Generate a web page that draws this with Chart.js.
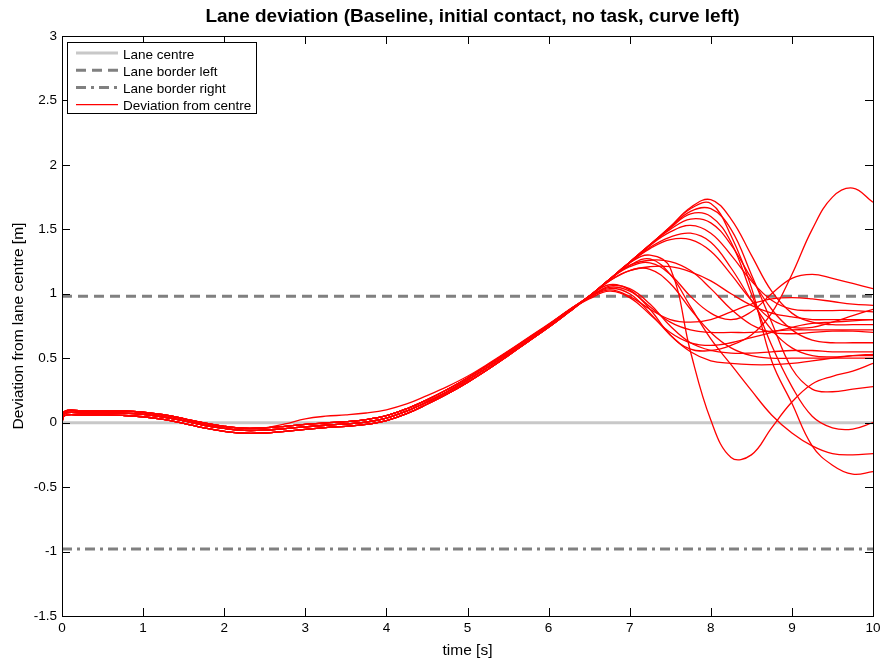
<!DOCTYPE html>
<html>
<head>
<meta charset="utf-8">
<script src="https://cdn.jsdelivr.net/npm/chart.js@4/dist/chart.umd.min.js"></script>
<style>
  html, body { margin: 0; padding: 0; background: #fff; }
  #wrap { width: 880px; height: 662px; }
</style>
</head>
<body>
<div id="wrap"><canvas id="dev" width="880" height="662"></canvas></div>
<script>
// lane geometry [m]
const laneCentre = 0;
const borderLeft = 0.98;
const borderRight = -0.98;

// axis ticks
const xTicks = [0, 1, 2, 3, 4, 5, 6, 7, 8, 9, 10];
const yTicks = [-1.5, -1, -0.5, 0, 0.5, 1, 1.5, 2, 2.5, 3];

// sample times of the runs, split where the runs start to diverge
const leadTimes = [0, 0.03, 0.25, 0.5, 0.75, 1, 1.25, 1.5, 1.75, 2, 2.25, 2.5, 2.75, 3,
  3.25, 3.5, 3.75, 4, 4.25, 4.5, 4.75, 5, 5.25, 5.5, 5.75, 6, 6.25];
const tailTimes = [6.5, 6.75, 7, 7.25, 7.5, 7.75, 8, 8.25, 8.5, 8.75, 9, 9.25, 9.5, 9.75, 10];

// the common approach into the curve (nearly identical for every run)
const leadLow = [0, 0.055, 0.058, 0.06, 0.056, 0.046, 0.026, -0.005, -0.04, -0.067, -0.082, -0.08, -0.067,
  -0.052, -0.038, -0.028, -0.014, 0.016, 0.07, 0.143, 0.223, 0.313, 0.413, 0.52, 0.63, 0.74, 0.858];
const leadMid = [0, 0.07, 0.075, 0.077, 0.074, 0.064, 0.044, 0.014, -0.02, -0.045, -0.06, -0.058, -0.046,
  -0.032, -0.02, -0.01, 0.005, 0.035, 0.09, 0.16, 0.24, 0.33, 0.43, 0.535, 0.64, 0.75, 0.865];
const leadHigh = [0, 0.087, 0.092, 0.094, 0.092, 0.082, 0.062, 0.032, -0.002, -0.028, -0.043, -0.04, -0.028,
  -0.013, -0.002, 0.008, 0.024, 0.054, 0.108, 0.177, 0.257, 0.347, 0.447, 0.55, 0.655, 0.76, 0.872];
const leadUpper = [0, 0.08, 0.085, 0.088, 0.085, 0.075, 0.055, 0.025, -0.01, -0.035, -0.045, -0.04, -0.01,
  0.03, 0.05, 0.06, 0.075, 0.1, 0.145, 0.21, 0.28, 0.36, 0.455, 0.555, 0.66, 0.765, 0.875];

// deviation after 6.5 s, one list per run
const runA1 = [0.98, 1.11, 1.245, 1.38, 1.52, 1.67, 1.73, 1.58, 1.30, 1.02, 0.85, 0.78, 0.76, 0.76, 0.76];
const runA2 = [0.98, 1.11, 1.245, 1.38, 1.52, 1.66, 1.70, 1.45, 1.05, 0.48, 0.15, -0.18, -0.33, -0.40, -0.38];
const runA3 = [0.98, 1.11, 1.245, 1.38, 1.515, 1.64, 1.66, 1.50, 1.15, 0.78, 0.42, 0.26, 0.24, 0.26, 0.28];
const runA4 = [0.98, 1.11, 1.245, 1.38, 1.51, 1.62, 1.60, 1.40, 1.00, 0.60, 0.28, 0.05, -0.04, -0.05, 0.00];
const runA5 = [0.98, 1.11, 1.245, 1.38, 1.50, 1.58, 1.55, 1.38, 1.12, 0.88, 0.72, 0.64, 0.62, 0.62, 0.62];
const runA6 = [0.98, 1.11, 1.245, 1.375, 1.48, 1.53, 1.47, 1.30, 1.10, 0.95, 0.88, 0.87, 0.87, 0.87, 0.86];
const runA7 = [0.98, 1.11, 1.24, 1.36, 1.44, 1.47, 1.40, 1.20, 0.95, 0.72, 0.58, 0.52, 0.51, 0.52, 0.52];
const runA8 = [0.98, 1.11, 1.24, 1.35, 1.42, 1.42, 1.33, 1.15, 0.95, 0.80, 0.74, 0.74, 0.78, 0.83, 0.88];
const runB1 = [0.98, 1.11, 1.24, 1.30, 1.20, 0.55, 0.02, -0.27, -0.25, -0.04, 0.16, 0.30, 0.36, 0.40, 0.46];
const runB2 = [0.98, 1.11, 1.22, 1.27, 1.15, 0.90, 0.65, 0.45, 0.25, 0.06, -0.08, -0.18, -0.24, -0.25, -0.24];
const runB3 = [0.98, 1.11, 1.21, 1.24, 1.15, 0.98, 0.85, 0.80, 0.86, 1.00, 1.12, 1.15, 1.12, 1.08, 1.04];
const runB4 = [0.98, 1.11, 1.22, 1.26, 1.25, 1.18, 1.04, 0.88, 0.76, 0.70, 0.69, 0.70, 0.71, 0.71, 0.70];
const runB5 = [0.98, 1.10, 1.18, 1.19, 1.08, 0.88, 0.70, 0.58, 0.52, 0.50, 0.50, 0.50, 0.50, 0.50, 0.50];
const runB6 = [0.98, 1.10, 1.18, 1.21, 1.21, 1.17, 1.10, 1.00, 0.91, 0.85, 0.82, 0.80, 0.80, 0.80, 0.80];
const runC1 = [0.98, 1.07, 1.03, 0.88, 0.68, 0.57, 0.56, 0.60, 0.68, 0.85, 1.15, 1.50, 1.75, 1.82, 1.71];
const runC2 = [0.97, 1.06, 1.04, 0.92, 0.75, 0.62, 0.56, 0.54, 0.54, 0.55, 0.56, 0.56, 0.55, 0.55, 0.55];
const runC3 = [0.97, 1.05, 1.02, 0.90, 0.78, 0.72, 0.70, 0.70, 0.70, 0.71, 0.72, 0.72, 0.72, 0.72, 0.72];
const runC4 = [0.97, 1.04, 1.00, 0.85, 0.68, 0.55, 0.48, 0.46, 0.45, 0.45, 0.46, 0.48, 0.50, 0.52, 0.53];
const runC5 = [0.97, 1.03, 0.98, 0.88, 0.80, 0.78, 0.80, 0.86, 0.92, 0.96, 0.97, 0.96, 0.94, 0.92, 0.91];
const runC6 = [0.96, 1.02, 0.97, 0.84, 0.70, 0.62, 0.60, 0.62, 0.66, 0.70, 0.74, 0.77, 0.78, 0.79, 0.80];

const runs = [
  [leadMid, runA1], [leadHigh, runA2], [leadLow, runA3], [leadMid, runA4], [leadHigh, runA5],
  [leadLow, runA6], [leadMid, runA7], [leadLow, runA8], [leadHigh, runB1], [leadMid, runB2],
  [leadUpper, runB3], [leadLow, runB4], [leadMid, runB5], [leadHigh, runB6], [leadLow, runC1],
  [leadMid, runC2], [leadHigh, runC3], [leadLow, runC4], [leadMid, runC5], [leadHigh, runC6]
];

const FONT = "'Liberation Sans', Arial, Helvetica, sans-serif";

function toPoints(lead, tail) {
  const pts = [];
  leadTimes.forEach((t, i) => pts.push({x: t, y: lead[i]}));
  tailTimes.forEach((t, i) => pts.push({x: t, y: tail[i]}));
  return pts;
}

function flatLine(v) {
  return [{x: xTicks[0], y: v}, {x: xTicks[xTicks.length - 1], y: v}];
}

const datasets = [
  {label: 'Lane centre', data: flatLine(laneCentre), borderColor: '#c8c8c8', borderWidth: 3, order: 2},
  {label: 'Lane border left', data: flatLine(borderLeft), borderColor: '#808080', borderWidth: 3,
    borderDash: [10, 6], order: 2},
  {label: 'Lane border right', data: flatLine(borderRight), borderColor: '#808080', borderWidth: 3,
    borderDash: [10, 5, 3, 5], order: 2}
];
runs.forEach((r, i) => {
  datasets.push({
    label: i === 0 ? 'Deviation from centre' : '',
    data: toPoints(r[0], r[1]),
    borderColor: '#ff0000',
    borderWidth: 1.3,
    tension: 0.4,
    order: 1
  });
});

// box round the axes with inward ticks on all four sides, legend, title
const frame = {
  id: 'frame',
  afterDraw(chart) {
    const {ctx, chartArea: a, scales} = chart;
    const tl = 8;
    ctx.save();
    ctx.strokeStyle = '#000';
    ctx.lineWidth = 1;
    ctx.beginPath();
    xTicks.forEach(v => {
      const px = Math.round(scales.x.getPixelForValue(v)) + 0.5;
      ctx.moveTo(px, a.bottom); ctx.lineTo(px, a.bottom - tl);
      ctx.moveTo(px, a.top); ctx.lineTo(px, a.top + tl);
    });
    yTicks.forEach(v => {
      const py = Math.round(scales.y.getPixelForValue(v)) + 0.5;
      ctx.moveTo(a.left, py); ctx.lineTo(a.left + tl, py);
      ctx.moveTo(a.right, py); ctx.lineTo(a.right - tl, py);
    });
    ctx.stroke();
    ctx.strokeRect(Math.round(a.left) + 0.5, Math.round(a.top) + 0.5,
      Math.round(a.right - a.left), Math.round(a.bottom - a.top));

    // title over the plot area
    ctx.fillStyle = '#000';
    ctx.font = 'bold 19px ' + FONT;
    ctx.textAlign = 'center';
    ctx.textBaseline = 'middle';
    ctx.fillText('Lane deviation (Baseline, initial contact, no task, curve left)', (a.left + a.right) / 2 + 5, 17);

    // legend
    const items = chart.data.datasets.filter(d => d.label);
    const lx = 67, ly = 42, lw = 189, lh = 71;
    ctx.fillStyle = '#fff';
    ctx.fillRect(lx, ly, lw, lh);
    ctx.strokeStyle = '#000';
    ctx.strokeRect(lx + 0.5, ly + 0.5, lw, lh);
    ctx.font = '13.5px ' + FONT;
    ctx.textAlign = 'left';
    items.forEach((d, i) => {
      const y = ly + 11 + i * 17.2;
      ctx.save();
      ctx.strokeStyle = d.borderColor;
      ctx.lineWidth = d.borderWidth;
      ctx.setLineDash(d.borderDash || []);
      ctx.beginPath();
      ctx.moveTo(lx + 9, y); ctx.lineTo(lx + 51, y);
      ctx.stroke();
      ctx.restore();
      ctx.fillStyle = '#000';
      ctx.fillText(d.label, lx + 56, y + 2);
    });
    ctx.restore();
  }
};

new Chart(document.getElementById('dev'), {
  type: 'line',
  data: {datasets: datasets},
  plugins: [frame],
  options: {
    responsive: false,
    animation: false,
    devicePixelRatio: 1,
    layout: {padding: {top: 36, right: 7, left: 0, bottom: 0}},
    elements: {point: {radius: 0}},
    plugins: {legend: {display: false}, tooltip: {enabled: false}, title: {display: false}},
    scales: {
      x: {
        type: 'linear', min: 0, max: 10,
        afterFit: s => { s.height = 46; s.paddingLeft = 0; s.paddingRight = 0; },
        afterBuildTicks: s => { s.ticks = xTicks.map(v => ({value: v})); },
        grid: {display: false, drawTicks: false},
        border: {display: false},
        ticks: {color: '#000', padding: 4, font: {family: FONT, size: 13.5}, callback: v => String(v)},
        title: {display: true, text: 'time [s]', color: '#000', font: {family: FONT, size: 15.5},
          padding: {top: 0, bottom: 2}}
      },
      y: {
        type: 'linear', min: -1.5, max: 3,
        afterFit: s => { s.width = 62; s.paddingTop = 0; s.paddingBottom = 0; },
        afterBuildTicks: s => { s.ticks = yTicks.map(v => ({value: v})); },
        grid: {display: false, drawTicks: false},
        border: {display: false},
        ticks: {color: '#000', padding: 5, font: {family: FONT, size: 13.5}, callback: v => String(v)},
        title: {display: true, text: 'Deviation from lane centre [m]', color: '#000',
          font: {family: FONT, size: 15.5}, padding: {top: 9, bottom: 0}}
      }
    }
  }
});
</script>
</body>
</html>
